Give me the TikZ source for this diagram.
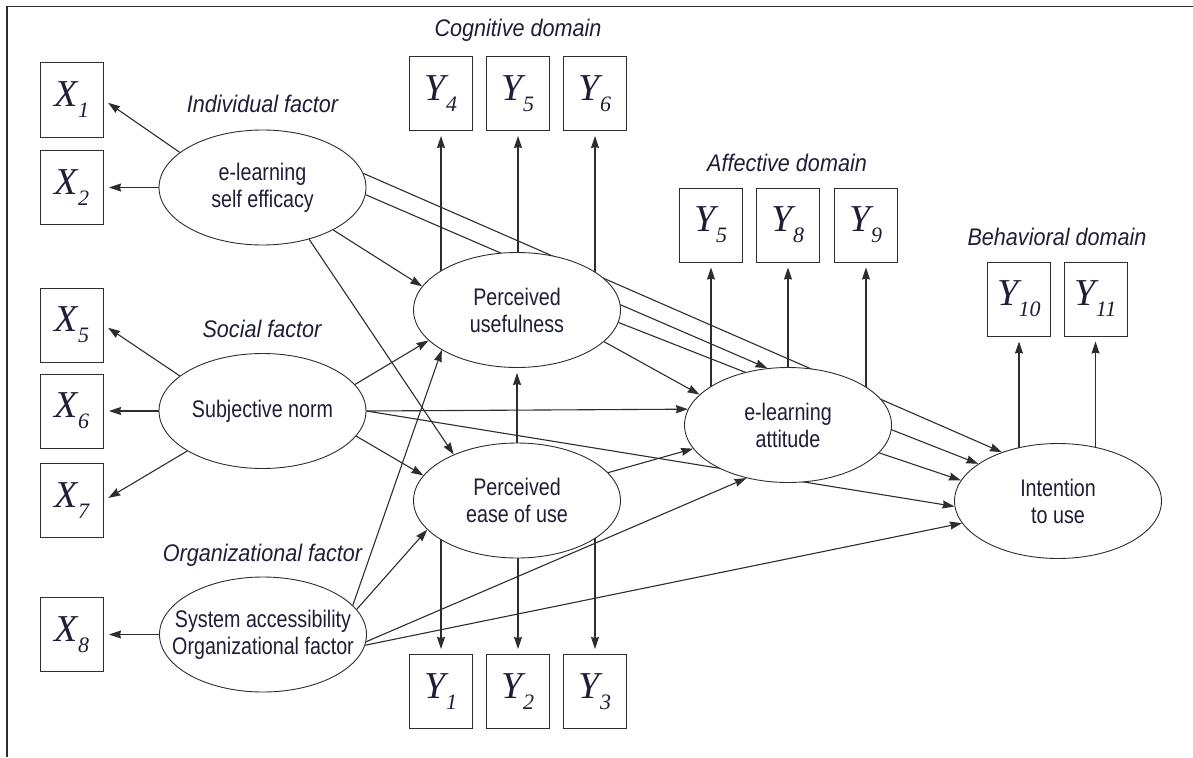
\documentclass[tikz,border=0pt]{standalone}
\usepackage{fontspec}
\setmainfont{Liberation Sans}
\newfontfamily\latfont[FakeStretch=0.82]{Liberation Sans}
\newfontfamily\domfont[FakeStretch=0.9]{Liberation Sans}
\newfontfamily\varfont{Liberation Serif}
\usetikzlibrary{shapes.geometric,arrows.meta}
\pgfdeclarelayer{back}
\pgfsetlayers{back,main}
\definecolor{ink}{RGB}{30,30,55}
\definecolor{wire}{RGB}{45,45,45}
% observed variable: italic letter with a lowered italic index
\newcommand\obsvar[3]{{\varfont\itshape\fontsize{38}{38}\selectfont #1}\kern#3\raisebox{-11pt}{\varfont\itshape\fontsize{22}{22}\selectfont #2}}
\newcommand\xv[1]{\obsvar{X}{#1}{0pt}}
\newcommand\yv[1]{\obsvar{Y}{#1}{0pt}}
\begin{document}
\begin{tikzpicture}[x=1pt,y=-1pt,
  lat/.style={ellipse, draw=wire, line width=0.9pt, fill=white,
    minimum width=207pt, minimum height=115pt, inner sep=0pt},
  lattext/.style={font=\latfont\fontsize{24}{27}\selectfont, text=ink,
    align=center, inner sep=0pt},
  obs/.style={draw=wire, line width=1pt, fill=white, minimum width=63pt,
    minimum height=74pt, inner sep=0pt, text=ink},
  dom/.style={font=\domfont\itshape\fontsize{24}{28}\selectfont, text=ink,
    anchor=base, inner sep=0pt},
  conn/.style={draw=wire, line width=1.1pt,
    -{Stealth[length=12pt,width=8pt,inset=1pt]}},
  meas/.style={conn, shorten >=5pt}]
\useasboundingbox (0,0) rectangle (1193,757);

% latent constructs
\node[lat] (SE) at (262.5,187.5) {};
\node[lat] (SN) at (262.5,411) {};
\node[lat] (SA) at (263,634.5) {};
\node[lat] (PU) at (517,310) {};
\node[lat] (PEOU) at (517,500.5) {};
\node[lat] (ATT) at (788,425) {};
\node[lat] (INT) at (1058,501) {};
\node[lattext] (SEt) at (SE) {e-learning\\self efficacy};
\node[lattext] (SNt) at (SN) {Subjective norm};
\node[lattext] (SAt) at (SA) {System accessibility\\Organizational factor};
\node[lattext] (PUt) at (PU) {Perceived\\usefulness};
\node[lattext] (PEOUt) at (PEOU) {Perceived\\ease of use};
\node[lattext] (ATTt) at (ATT) {e-learning\\attitude};
\node[lattext] (INTt) at (INT) {Intention\\to use};

% indicators
\node[obs] (X1) at (72,100) {\xv{1}};
\node[obs] (X2) at (72,187.5) {\xv{2}};
\node[obs] (X5) at (72,325) {\xv{5}};
\node[obs] (X6) at (72,411) {\xv{6}};
\node[obs] (X7) at (72,500.5) {\xv{7}};
\node[obs] (X8) at (72,634.5) {\xv{8}};
\node[obs] (Y4) at (441,93.5) {\yv{4}};
\node[obs] (Y5) at (518,93.5) {\yv{5}};
\node[obs] (Y6) at (595,93.5) {\yv{6}};
\node[obs] (A5) at (711,225) {\yv{5}};
\node[obs] (Y8) at (788,225) {\yv{8}};
\node[obs] (Y9) at (866,225) {\yv{9}};
\node[obs] (Y10) at (1019,299) {\yv{10}};
\node[obs] (Y11) at (1095.5,299) {\yv{11}};
\node[obs] (Y1) at (441,691.5) {\yv{1}};
\node[obs] (Y2) at (518,691.5) {\yv{2}};
\node[obs] (Y3) at (595,691.5) {\yv{3}};

% group headings
\node[dom] (hInd) at (262.5,113) {Individual factor};
\node[dom] (hSoc) at (262,337) {Social factor};
\node[dom] (hOrg) at (262.5,561) {Organizational factor};
\node[dom] (hCog) at (518,37) {Cognitive domain};
\node[dom] (hAff) at (787,171) {Affective domain};
\node[dom] (hBeh) at (1057,245) {Behavioral domain};

\begin{pgfonlayer}{back}
  % frame
  \draw[wire, line width=1.2pt] (7,757) -- (7,6.5) -- (1193,6.5);

  % measurement arrows
  \draw[meas] (SE.157) -- (X1.east);
  \draw[meas] (SE.west) -- (X2.east);
  \draw[meas] (SN.157) -- (X5.east);
  \draw[meas] (SN.west) -- (X6.east);
  \draw[meas] (SN.208) -- (X7.east);
  \draw[meas] (SA.west) -- (X8.east);
  \foreach \b in {Y4,Y5,Y6} \draw[meas] (\b.south |- PU.center) -- (\b.south);
  \foreach \b in {Y1,Y2,Y3} \draw[meas] (\b.north |- PEOU.center) -- (\b.north);
  \foreach \b in {A5,Y8,Y9} \draw[meas] (\b.south |- ATT.center) -- (\b.south);
  \foreach \b in {Y10,Y11} \draw[meas] (\b.south |- INT.center) -- (\b.south);

  % structural paths
  \draw[conn] (SE.-31) -- (PU.166);
  \draw[conn] (SE.-48) -- (PEOU.144);
  \draw[conn] (SE.-4) -- (ATT.110);
  \draw[conn] (SE.8) -- (INT.139);
  \draw[conn] (SN.16) -- (PU.199);
  \draw[conn] (SN.-15) -- (PEOU.165);
  \draw[conn] (SN.east) -- (ATT.171);
  \draw[conn] (SN.east) -- (INT.183);
  \draw[conn] (SA.18) -- (PU.208);
  \draw[conn] (SA.15) -- (PEOU.198);
  \draw[conn] (SA.-4) -- (ATT.232);
  \draw[conn] (SA.-6) -- (INT.193);
  \draw[conn, shorten >=5pt] (PEOU.north) -- (PU.south);
  \draw[conn] (PEOU.17) -- (ATT.194);
  \draw[conn] (PU.-20) -- (ATT.161);
  \draw[conn] (PU.-7) -- (INT.155);
  \draw[conn] (ATT.-17) -- (INT.168);
\end{pgfonlayer}
\end{tikzpicture}
\end{document}
